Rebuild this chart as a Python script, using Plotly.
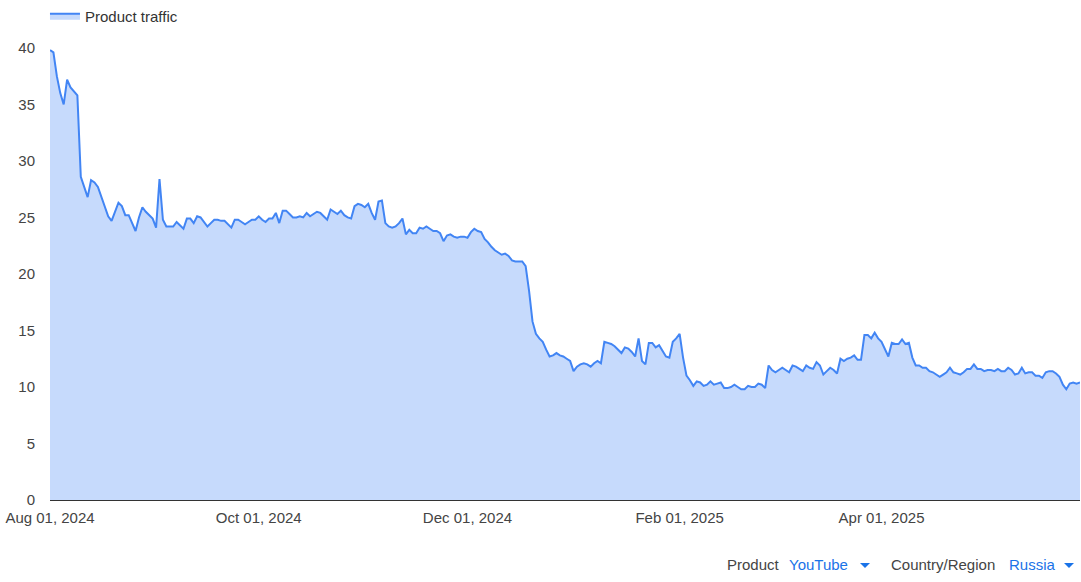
import pandas as pd
import plotly.graph_objects as go

START_DATE = "2024-08-01"

traffic = [
    39.8, 39.6, 37.5, 36.0, 35.0, 37.2, 36.5, 36.1, 35.8, 28.6,
    27.6, 26.8, 28.3, 28.1, 27.7, 26.8, 25.8, 25.1, 24.7, 25.6,
    26.3, 26.0, 25.2, 25.2, 24.5, 23.8, 25.0, 25.9, 25.5, 25.2,
    24.9, 24.1, 28.4, 24.8, 24.2, 24.2, 24.2, 24.6, 24.3, 24.0,
    24.9, 24.9, 24.5, 25.1, 25.0, 24.6, 24.2, 24.5, 24.8, 24.8,
    24.7, 24.7, 24.4, 24.1, 24.8, 24.8, 24.6, 24.4, 24.6, 24.8,
    24.8, 25.1, 24.8, 24.6, 24.9, 24.9, 25.4, 24.5, 25.6, 25.6,
    25.3, 25.0, 25.0, 25.1, 25.0, 25.4, 25.1, 25.3, 25.5, 25.4,
    25.1, 24.8, 25.7, 25.5, 25.3, 25.6, 25.2, 25.0, 24.9, 26.0,
    26.2, 26.1, 25.9, 26.2, 25.4, 24.8, 26.4, 26.5, 24.5, 24.2,
    24.1, 24.2, 24.5, 24.9, 23.5, 23.9, 23.6, 23.6, 24.1, 24.0,
    24.2, 24.0, 23.8, 23.8, 23.6, 22.9, 23.4, 23.5, 23.3, 23.2,
    23.3, 23.3, 23.2, 23.7, 24.0, 23.8, 23.7, 23.1, 22.8, 22.4,
    22.1, 21.9, 21.7, 21.8, 21.6, 21.2, 21.1, 21.1, 21.1, 20.7,
    18.5, 15.8, 14.7, 14.3, 14.0, 13.3, 12.7, 12.8, 13.0, 12.8,
    12.7, 12.5, 12.3, 11.4, 11.8, 12.0, 12.1, 12.0, 11.8, 12.1,
    12.3, 12.1, 14.0, 13.9, 13.8, 13.6, 13.3, 13.0, 13.5, 13.4,
    13.1, 12.7, 14.3, 12.3, 12.0, 13.9, 13.9, 13.5, 13.7, 13.2,
    12.7, 12.6, 14.0, 14.3, 14.7, 12.6, 11.0, 10.6, 10.1, 10.5,
    10.4, 10.1, 10.2, 10.5, 10.2, 10.3, 10.4, 9.9, 9.9, 10.0,
    10.2, 10.0, 9.8, 9.8, 10.1, 10.0, 10.0, 10.3, 10.2, 9.9,
    11.9, 11.5, 11.3, 11.5, 11.7, 11.5, 11.3, 11.9, 11.8, 11.6,
    11.4, 11.9, 11.7, 11.6, 12.2, 11.9, 11.1, 11.4, 11.7, 11.5,
    11.2, 12.5, 12.3, 12.5, 12.6, 12.8, 12.4, 12.4, 14.6, 14.6,
    14.3, 14.8, 14.3, 14.0, 13.3, 12.7, 13.9, 13.8, 13.8, 14.2,
    13.8, 13.9, 12.6, 11.9, 11.9, 11.7, 11.7, 11.4, 11.3, 11.1,
    10.9, 11.1, 11.3, 11.7, 11.3, 11.2, 11.1, 11.3, 11.6, 11.6,
    12.0, 11.6, 11.6, 11.4, 11.5, 11.5, 11.4, 11.6, 11.4, 11.4,
    11.7, 11.5, 11.1, 11.2, 11.7, 11.2, 11.3, 11.3, 11.0, 11.0,
    10.8, 11.3, 11.4, 11.4, 11.2, 10.9, 10.2, 9.8, 10.3, 10.4,
    10.3, 10.4,
]
dates = pd.date_range(START_DATE, periods=len(traffic), freq="D")

tick_dates = ["2024-08-01", "2024-10-01", "2024-12-01", "2025-02-01", "2025-04-01"]
y_ticks = [0, 5, 10, 15, 20, 25, 30, 35, 40]

BLUE = "#4285f4"
FILL = "#c6dafc"
TEXT = "#444444"
LINK = "#1a73e8"

fig = go.Figure(go.Scatter(
    x=dates, y=traffic, mode="lines", name="Product traffic",
    line=dict(color=BLUE, width=2), fill="tozeroy", fillcolor=FILL,
))

fig.update_layout(
    width=1081, height=582,
    paper_bgcolor="white", plot_bgcolor="white",
    font=dict(family="Liberation Sans, Arial, sans-serif", size=15, color=TEXT),
    margin=dict(l=50, r=1, t=40, b=82),
    showlegend=True,
    # container refs so the legend does not push the top margin
    legend=dict(xref="container", yref="container", x=0.0416, y=1 - 16 / 582,
                xanchor="left", yanchor="middle", orientation="h", itemwidth=30,
                font=dict(size=15, color="#333333"), bgcolor="rgba(0,0,0,0)"),
)
fig.update_xaxes(
    range=[dates[0], dates[-1]], tickvals=tick_dates, tickformat="%b %d, %Y",
    showgrid=False, zeroline=False, showline=True, linecolor="#333333", linewidth=1,
    ticks="", ticklabelstandoff=4,
)
fig.update_yaxes(
    range=[0, 40.7], tickvals=y_ticks, showgrid=False, zeroline=False, showline=False,
    ticks="", ticklabelstandoff=14,
)

# dropdown controls under the chart
controls = [
    (0.655, "Product", TEXT), (0.716, "YouTube", LINK),
    (0.8145, "Country/Region", TEXT), (0.929, "Russia", LINK),
]
for x, txt, col in controls:
    fig.add_annotation(
        x=x, y=-0.1413, xref="paper", yref="paper", text=txt, showarrow=False,
        xanchor="left", yanchor="middle", font=dict(size=15, color=col),
    )
for x0, x1 in [(0.7864, 0.7961), (0.9845, 0.9942)]:
    fig.add_shape(
        type="path", xref="paper", yref="paper",
        path=f"M {x0} -0.1370 L {x1} -0.1370 L {(x0 + x1) / 2} -0.1478 Z",
        fillcolor=LINK, line=dict(width=0),
    )

fig.write_html("out.html", config={"displayModeBar": False},
               post_script="document.body.style.margin='0';")
